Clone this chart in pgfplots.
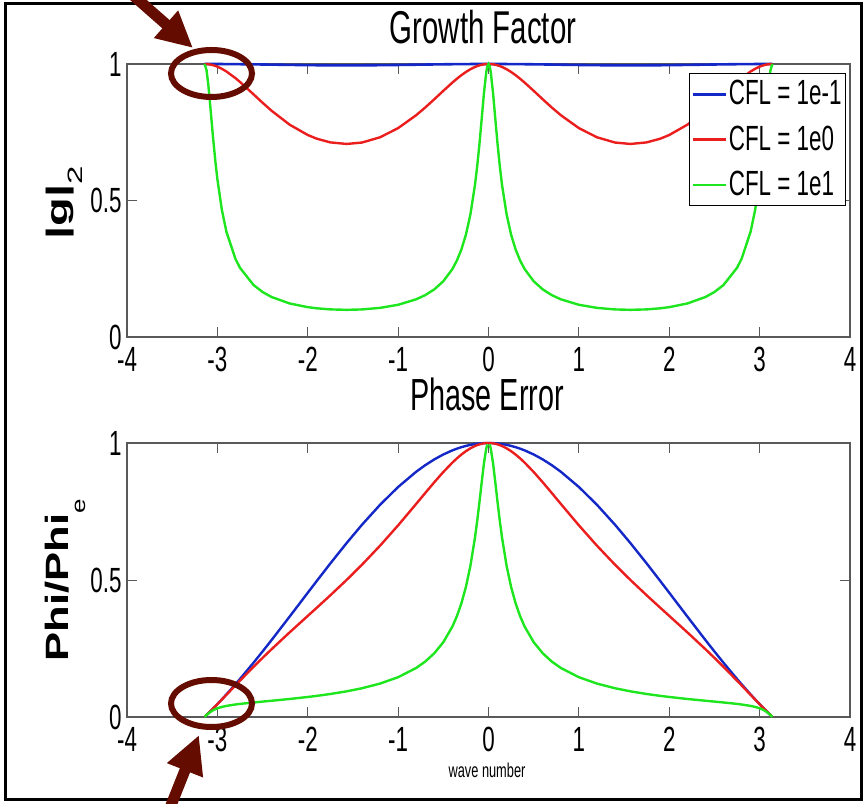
\documentclass[border=0pt]{standalone}
\usepackage{pgfplots}
\pgfplotsset{compat=1.18}
\usepackage{pgfplotstable}
\usepackage{graphicx}
\usepackage{fontspec}
\setmainfont{Liberation Sans}[FakeStretch=0.64]
\newfontfamily\labfont{Liberation Sans}
\usetikzlibrary{arrows.meta}
\definecolor{cb}{RGB}{20,40,200}
\definecolor{cr}{RGB}{235,30,30}
\definecolor{cg}{RGB}{30,230,30}
\definecolor{ann}{RGB}{100,12,0}

\pgfplotstableread{
k g1 g2 g3 p1 p2 p3
-3.1416 1 1 1 0 0 0
-3.12 1.00000 0.99977 0.97748 0.00692 0.00692 0.00682
-3.1 0.99999 0.99914 0.92335 0.01341 0.01341 0.01271
-3.08 0.99998 0.99811 0.85160 0.01998 0.01996 0.01791
-3.05 0.99996 0.99584 0.73790 0.02999 0.02991 0.02429
-3.02 0.99993 0.99272 0.63613 0.04016 0.03997 0.02918
-3.0 0.99990 0.99019 0.57817 0.04704 0.04673 0.03181
-2.95 0.99982 0.98235 0.46493 0.06454 0.06379 0.03686
-2.9 0.99971 0.97255 0.38564 0.08248 0.08098 0.04051
-2.8 0.99944 0.94821 0.28605 0.11959 0.11544 0.04574
-2.75 0.99927 0.93427 0.25346 0.13872 0.13258 0.04780
-2.6 0.99867 0.88885 0.19044 0.19809 0.18307 0.05305
-2.5 0.99822 0.85807 0.16481 0.23910 0.21572 0.05621
-2.4 0.99772 0.82867 0.14645 0.28101 0.24753 0.05933
-2.2 0.99674 0.77763 0.12275 0.36670 0.30905 0.06581
-2.0 0.99588 0.73987 0.10932 0.45340 0.36896 0.07306
-1.9 0.99554 0.72634 0.10509 0.49657 0.39885 0.07713
-1.75 0.99519 0.71279 0.10111 0.56046 0.44419 0.08397
-1.5708 0.99504 0.70711 0.09950 0.63450 0.50000 0.09365
-1.4 0.99517 0.71227 0.10096 0.70161 0.55576 0.10498
-1.2 0.99567 0.73153 0.10668 0.77445 0.62520 0.12199
-1.0 0.99647 0.76515 0.11801 0.83949 0.69952 0.14525
-0.8 0.99743 0.81255 0.13807 0.89516 0.77785 0.17904
-0.7 0.99793 0.84066 0.15339 0.91904 0.81757 0.20240
-0.6 0.99841 0.87078 0.17439 0.94007 0.85669 0.23259
-0.5 0.99885 0.90172 0.20419 0.95812 0.89412 0.27303
-0.4 0.99924 0.93184 0.24872 0.97305 0.92839 0.32986
-0.35 0.99941 0.94593 0.27997 0.97932 0.94381 0.36772
-0.3 0.99956 0.95900 0.32053 0.98478 0.95781 0.41484
-0.25 0.99969 0.97073 0.37474 0.98941 0.97014 0.47467
-0.2 0.99980 0.98083 0.44961 0.99322 0.98058 0.55224
-0.15 0.99989 0.98902 0.55614 0.99618 0.98894 0.65404
-0.125 0.99992 0.99237 0.62568 0.99740 0.99228 0.71583
-0.1 0.99995 0.99506 0.70769 0.99830 0.99503 0.78456
-0.075 0.99997 0.99721 0.80026 0.99906 0.99721 0.85740
-0.05 0.99999 0.99875 0.89450 0.99958 0.99875 0.92696
-0.025 1.00000 0.99969 0.97014 0.99990 0.99969 0.97980
-0.0125 1.00000 0.99992 0.99228 0.99997 0.99992 0.99484
0 1 1 1 1 1 nan
0.0125 1.00000 0.99992 0.99228 0.99997 0.99992 0.99484
0.025 1.00000 0.99969 0.97014 0.99990 0.99969 0.97980
0.05 0.99999 0.99875 0.89450 0.99958 0.99875 0.92696
0.075 0.99997 0.99721 0.80026 0.99906 0.99721 0.85740
0.1 0.99995 0.99506 0.70769 0.99830 0.99503 0.78456
0.125 0.99992 0.99237 0.62568 0.99740 0.99228 0.71583
0.15 0.99989 0.98902 0.55614 0.99618 0.98894 0.65404
0.2 0.99980 0.98083 0.44961 0.99322 0.98058 0.55224
0.25 0.99969 0.97073 0.37474 0.98941 0.97014 0.47467
0.3 0.99956 0.95900 0.32053 0.98478 0.95781 0.41484
0.35 0.99941 0.94593 0.27997 0.97932 0.94381 0.36772
0.4 0.99924 0.93184 0.24872 0.97305 0.92839 0.32986
0.5 0.99885 0.90172 0.20419 0.95812 0.89412 0.27303
0.6 0.99841 0.87078 0.17439 0.94007 0.85669 0.23259
0.7 0.99793 0.84066 0.15339 0.91904 0.81757 0.20240
0.8 0.99743 0.81255 0.13807 0.89516 0.77785 0.17904
1.0 0.99647 0.76515 0.11801 0.83949 0.69952 0.14525
1.2 0.99567 0.73153 0.10668 0.77445 0.62520 0.12199
1.4 0.99517 0.71227 0.10096 0.70161 0.55576 0.10498
1.5708 0.99504 0.70711 0.09950 0.63450 0.50000 0.09365
1.75 0.99519 0.71279 0.10111 0.56046 0.44419 0.08397
1.9 0.99554 0.72634 0.10509 0.49657 0.39885 0.07713
2.0 0.99588 0.73987 0.10932 0.45340 0.36896 0.07306
2.2 0.99674 0.77763 0.12275 0.36670 0.30905 0.06581
2.4 0.99772 0.82867 0.14645 0.28101 0.24753 0.05933
2.5 0.99822 0.85807 0.16481 0.23910 0.21572 0.05621
2.6 0.99867 0.88885 0.19044 0.19809 0.18307 0.05305
2.75 0.99927 0.93427 0.25346 0.13872 0.13258 0.04780
2.8 0.99944 0.94821 0.28605 0.11959 0.11544 0.04574
2.9 0.99971 0.97255 0.38564 0.08248 0.08098 0.04051
2.95 0.99982 0.98235 0.46493 0.06454 0.06379 0.03686
3.0 0.99990 0.99019 0.57817 0.04704 0.04673 0.03181
3.02 0.99993 0.99272 0.63613 0.04016 0.03997 0.02918
3.05 0.99996 0.99584 0.73790 0.02999 0.02991 0.02429
3.08 0.99998 0.99811 0.85160 0.01998 0.01996 0.01791
3.1 0.99999 0.99914 0.92335 0.01341 0.01341 0.01271
3.12 1.00000 0.99977 0.97748 0.00692 0.00692 0.00682
3.1416 1 1 1 0 0 0
}\curves

\pgfplotsset{
  mystyle/.style={
    scale only axis, anchor=south west,
    width=361.5pt,
    xmin=-4, xmax=4, ymin=0, ymax=1,
    xtick={-4,-3,-2,-1,0,1,2,3,4},
    ytick={0,0.5,1},
    clip=false,
    unbounded coords=jump,
    axis line style={black!65, line width=0.6pt},
    tick style={black!65, line width=0.5pt},
    major tick length=5pt,
    tick align=inside,
    /pgf/number format/assume math mode=true,
    ticklabel style={font=\fontsize{17.5}{18}\selectfont, inner sep=0pt},
    xticklabel style={yshift=-5pt},
    yticklabel style={xshift=-2.5pt},
  },
}

\begin{document}
\begin{tikzpicture}
\useasboundingbox (0,0) rectangle (433pt,401.5pt);

\begin{axis}[mystyle, at={(63.5pt,233pt)}, height=136.5pt,
  legend cell align=left,
  legend image code/.code={\draw[#1] (0pt,0pt) -- (16.5pt,0pt);},
  legend style={at={(1,1)}, anchor=north east, xshift=-2pt, yshift=-4.5pt,
    draw=black, line width=0.5pt, fill=white,
    font=\fontsize{17.5}{18}\selectfont,
    inner xsep=1pt, inner ysep=2.5pt, row sep=7pt, nodes={inner sep=1pt}}]
\addplot[cb, line width=1.3pt] table[x=k, y=g1] {\curves};
\addlegendentry{CFL = 1e-1}
\addplot[cr, line width=1.2pt] table[x=k, y=g2] {\curves};
\addlegendentry{CFL = 1e0}
\addplot[cg, line width=1.2pt] table[x=k, y=g3] {\curves};
\addlegendentry{CFL = 1e1}
\end{axis}

\begin{axis}[mystyle, at={(63.5pt,43pt)}, height=137pt]
\addplot[cb, line width=1.2pt] table[x=k, y=p1] {\curves};
\addplot[cr, line width=1.2pt] table[x=k, y=p2] {\curves};
\addplot[cg, line width=1.2pt] table[x=k, y=p3] {\curves};
\end{axis}

\begin{scope}[x=0.5pt, y=-0.5pt, shift={(0pt,401.5pt)}]
  \draw[line width=1.5pt] (5,4) rectangle (861,799);
  \node[anchor=base, font=\fontsize{23}{24}\selectfont, inner sep=0pt] at (483,44) {Growth Factor};
  \node[anchor=base, font=\fontsize{22.5}{24}\selectfont, inner sep=0pt] at (487,411) {Phase Error};
  \node[anchor=base, font=\fontsize{10}{11}\selectfont, inner sep=0pt] at (487,777) {wave number};
  \node[rotate=90, anchor=base, inner sep=0pt] at (67,203)
    {\scalebox{1}[0.63]{{\labfont\bfseries\fontsize{23.5}{24}\selectfont |g|}\raisebox{-12.5pt}{\labfont\fontsize{16.5}{17}\selectfont 2}}};
  \node[rotate=90, anchor=base, inner sep=0pt] at (68,580)
    {\scalebox{1}[0.74]{{\labfont\bfseries\fontsize{21.8}{22}\selectfont Phi/Phi}\raisebox{-11.5pt}{\labfont\fontsize{13}{13}\selectfont e}}};
  % annotations
  \draw[ann, line width=3pt] (211.5,73.5) ellipse [x radius=20.25pt, y radius=11.75pt];
  \draw[ann, line width=3pt] (211.5,703.5) ellipse [x radius=20.25pt, y radius=11.75pt];
  \draw[ann, line width=5.5pt, -{Triangle[length=18pt, width=17pt]}] (110,-25) -- (193,48);
  \draw[ann, line width=5.5pt, -{Triangle[length=19pt, width=18pt]}] (162,828) -- (199,735);
\end{scope}
\end{tikzpicture}
\end{document}
